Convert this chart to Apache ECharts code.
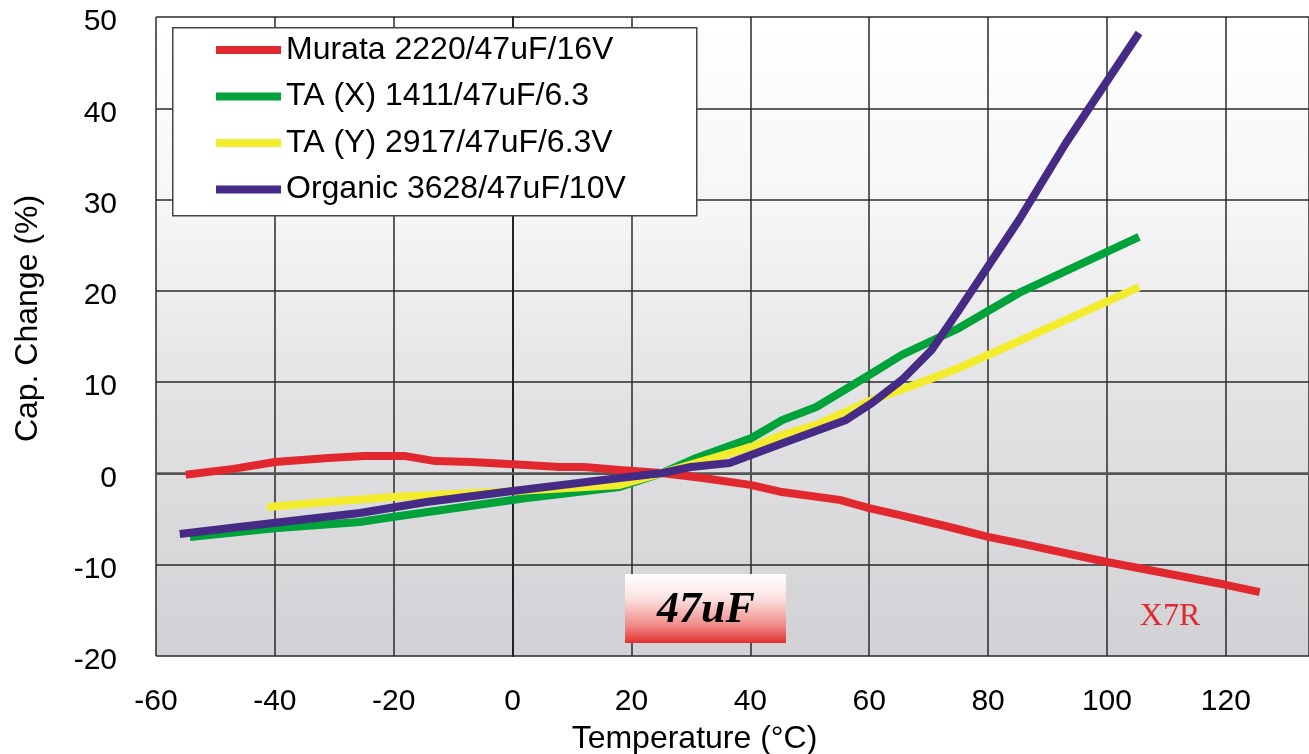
<!DOCTYPE html>
<html><head><meta charset="utf-8">
<script src="https://cdn.jsdelivr.net/npm/echarts@6/dist/echarts.min.js"></script>
<style>html,body{margin:0;padding:0;background:#fff}#c{width:1309px;height:754px}</style>
</head><body><div id="c"></div><script>
const seriesNames = ['Murata 2220/47uF/16V', 'TA (X) 1411/47uF/6.3', 'TA (Y) 2917/47uF/6.3V', 'Organic 3628/47uF/10V'];
const seriesColors = ['#e1282f', '#00a23a', '#f3ec2e', '#452b85'];

const murataT = [-55, -47, -40, -31, -25, -18, -13, -7, 0, 8, 12, 18, 25, 32, 40, 45, 55, 60, 65, 74, 80, 85, 100, 120, 125.7];
const murataV = [-0.15, 0.5, 1.25, 1.7, 1.9, 1.9, 1.35, 1.25, 1.0, 0.7, 0.7, 0.38, 0.05, -0.5, -1.25, -2.0, -2.9, -3.8, -4.55, -5.95, -6.95, -7.6, -9.7, -12.2, -13.0];

const taxT = [-54.3, -40, -25.7, -20.2, -6, 2.4, 18, 25.2, 30.9, 40.2, 45.4, 51.1, 60, 65.5, 75.1, 85.2, 105.4];
const taxV = [-6.96, -6.0, -5.32, -4.77, -3.46, -2.69, -1.48, 0.05, 1.69, 3.88, 5.86, 7.28, 10.78, 12.98, 15.93, 19.77, 25.9];

const tayT = [-41.3, -31.3, -20.2, -10.1, 0, 18, 25.2, 40.2, 45.4, 51.1, 60.5, 66.7, 75.1, 85.2, 105.4];
const tayV = [-3.67, -3.13, -2.58, -2.25, -1.95, -1.26, 0.05, 2.9, 4.21, 5.31, 8.05, 9.47, 11.55, 14.5, 20.42];

const orgT = [-56, -40.3, -25.7, -14.5, 0, 18, 25.2, 30, 36.5, 46, 56.1, 60.5, 65.5, 70.5, 75.1, 85.2, 93.1, 105.4];
const orgV = [-6.63, -5.43, -4.33, -3.13, -1.92, -0.5, 0.05, 0.7, 1.15, 3.45, 5.86, 7.72, 10.24, 13.52, 17.9, 27.76, 36.2, 48.25];

const xTicks = {min: -60, max: 134, interval: 20};
const yTicks = {min: -20, max: 50, interval: 10};

const zip = (t, v) => t.map((x, i) => [x, v[i]]);
const allData = [zip(murataT, murataV), zip(taxT, taxV), zip(tayT, tayV), zip(orgT, orgV)];

const FONT = '"Liberation Sans", Arial, sans-serif';
const chart = echarts.init(document.getElementById('c'), null, {renderer: 'canvas'});
chart.setOption({
  animation: false,
  backgroundColor: '#ffffff',
  grid: {
    left: 156, right: 0, top: 17, bottom: 98,
    outerBoundsMode: 'none',
    show: true, borderWidth: 0,
    backgroundColor: new echarts.graphic.LinearGradient(0, 0, 0, 1, [
      {offset: 0, color: '#ffffff'},
      {offset: 0.3, color: '#f6f6f6'},
      {offset: 0.62, color: '#e1e1e3'},
      {offset: 1, color: '#d2d2d6'}
    ])
  },
  xAxis: {
    type: 'value', min: xTicks.min, max: xTicks.max, interval: xTicks.interval,
    name: 'Temperature (\u00B0C)', nameLocation: 'middle', nameGap: 67,
    nameTextStyle: {fontFamily: FONT, fontSize: 32, color: '#000', padding: [0, 76, 0, 0]},
    axisLine: {show: true, lineStyle: {color: '#555', width: 2.5}},
    axisTick: {show: false},
    axisLabel: {fontFamily: FONT, fontSize: 30, color: '#000', margin: 31, showMaxLabel: false},
    splitLine: {show: true, lineStyle: {color: '#2a2a2a', width: 1.5}}
  },
  yAxis: {
    type: 'value', min: yTicks.min, max: yTicks.max, interval: yTicks.interval,
    name: 'Cap. Change (%)', nameLocation: 'middle', nameGap: 112,
    nameTextStyle: {fontFamily: FONT, fontSize: 32, color: '#000', padding: [0, 0, 0, 36]},
    axisLine: {show: true, lineStyle: {color: '#222', width: 2}},
    axisTick: {show: false},
    axisLabel: {fontFamily: FONT, fontSize: 30, color: '#000', margin: 39, verticalAlign: 'top', lineHeight: 10},
    splitLine: {show: true, lineStyle: {color: '#2a2a2a', width: 1.5}}
  },
  legend: {
    orient: 'vertical', left: 216, top: 34, padding: 0,
    itemWidth: 65, itemHeight: 8, itemGap: 14.5, icon: 'rect',
    textStyle: {fontFamily: FONT, fontSize: 32, color: '#000', lineHeight: 32},
    data: seriesNames, z: 6
  },
  graphic: [
    {type: 'rect', left: 172, top: 27, z: 5, shape: {width: 524, height: 188},
     style: {fill: '#ffffff', stroke: '#444', lineWidth: 1.5}},
    {type: 'rect', left: 625, top: 574, z: 5, shape: {width: 161, height: 69},
     style: {fill: new echarts.graphic.LinearGradient(0, 0, 0, 1, [
       {offset: 0, color: '#ffffff'}, {offset: 0.35, color: '#fbe3e2'},
       {offset: 0.75, color: '#f08a88'}, {offset: 1, color: '#e3312f'}])}},
    {type: 'text', x: 706, y: 611, z: 6, style: {
      text: '47uF', align: 'center', verticalAlign: 'middle',
      font: 'italic bold 44px "Liberation Serif", "Times New Roman", serif', fill: '#000',
      textShadowColor: '#ffffff', textShadowOffsetX: 2, textShadowOffsetY: 2, textShadowBlur: 0}},
    {type: 'text', x: 1170, y: 617, z: 6, style: {
      text: 'X7R', align: 'center', verticalAlign: 'middle',
      font: '32px "Liberation Serif", "Times New Roman", serif', fill: '#e1282f'}}
  ],
  series: allData.map((d, i) => ({
    name: seriesNames[i], type: 'line', data: d, symbol: 'none', smooth: false,
    color: seriesColors[i], z: 2 + i,
    lineStyle: {width: 8, color: seriesColors[i], cap: 'butt', join: 'round'}
  }))
});
</script></body></html>
